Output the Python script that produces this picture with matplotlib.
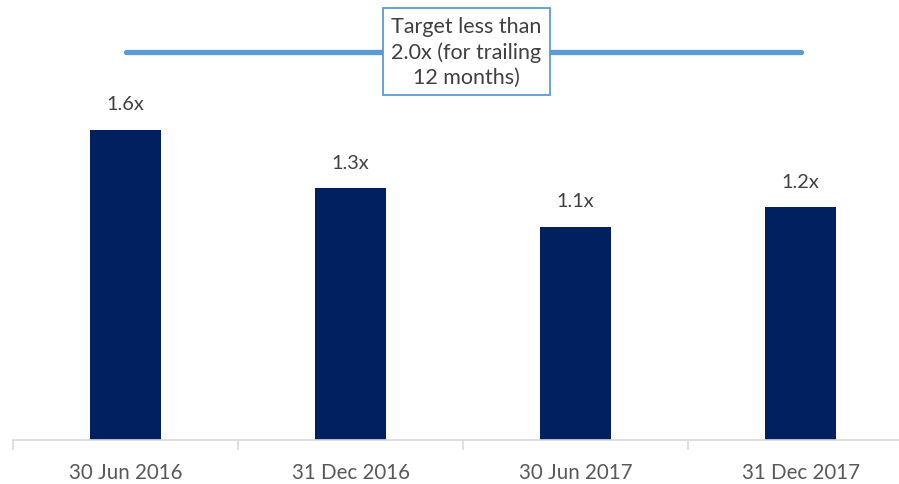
import matplotlib.pyplot as plt
import numpy as np

# chart data
categories = ["30 Jun 2016", "31 Dec 2016", "30 Jun 2017", "31 Dec 2017"]
values = [1.6, 1.3, 1.1, 1.2]
value_labels = ["1.6x", "1.3x", "1.1x", "1.2x"]
target = 2.0
target_label = "Target less than\n2.0x (for trailing\n12 months)"

plt.rcParams['font.family'] = ['Lato', 'DejaVu Sans']

W, H = 899, 485
fig = plt.figure(figsize=(W / 100, H / 100), dpi=100)
# axes run slightly past the right edge, like the cropped original
ax = fig.add_axes([13 / W, 44 / H, 900 / W, 441 / H])

x = np.arange(len(categories))
ax.bar(x, values, width=0.315, color="#002060", zorder=2)

for xi, v, lab in zip(x, values, value_labels):
    ax.annotate(lab, (xi, v), xytext=(0, 26), textcoords="offset pixels",
                ha="center", va="center", fontsize=14.3, color="#404040")

# target line across the bars
ax.plot([x[0], x[-1]], [target, target], color="#5B9BD5", lw=3.8,
        solid_capstyle="round", zorder=3)
ax.text(1.515, target + 0.005, target_label, ha="center", va="center",
        fontsize=15.5, color="#404040", linespacing=1.3, zorder=4,
        bbox=dict(boxstyle="square,pad=0.4", fc="white", ec="#5B9BD5", lw=1.3))

ax.set_xlim(-0.5, 3.5)
ax.set_ylim(0, 2.276)

for s in ["top", "right", "left"]:
    ax.spines[s].set_visible(False)
ax.spines["bottom"].set_color("#D9D9D9")
ax.spines["bottom"].set_linewidth(1.2)
ax.set_yticks([])

ax.set_xticks(x)
ax.set_xticklabels(categories, fontsize=14.8, color="#595959")
ax.tick_params(axis="x", length=0, pad=16)
ax.set_xticks(np.arange(-0.5, 4.0, 1.0), minor=True)
ax.tick_params(axis="x", which="minor", length=7, width=1.2, color="#D9D9D9")

fig.savefig("out.png", dpi=100)
